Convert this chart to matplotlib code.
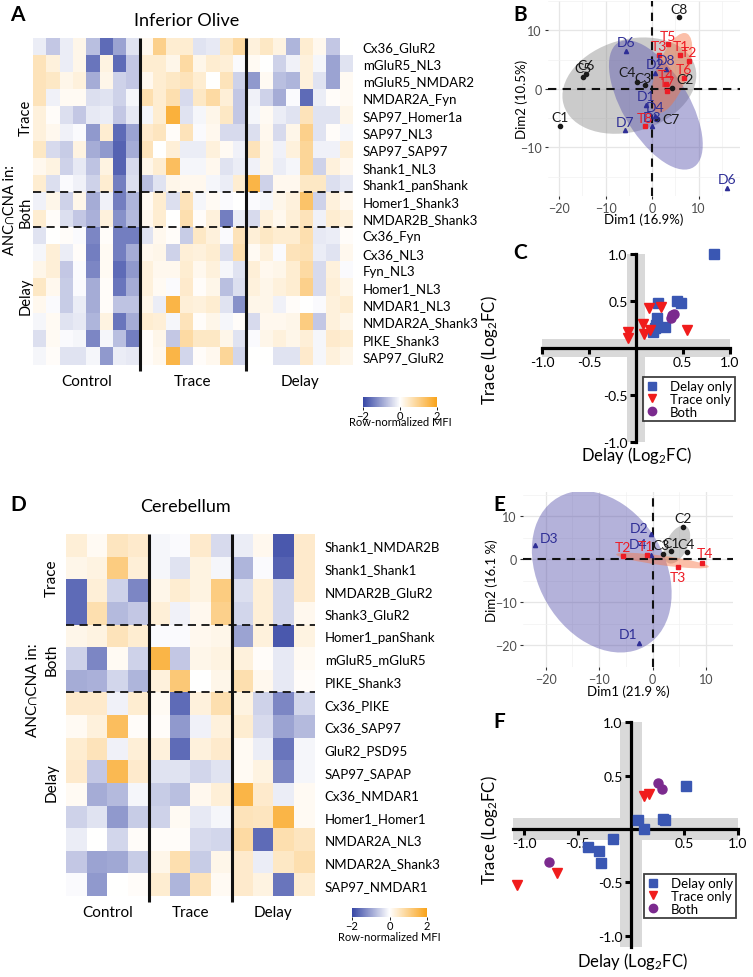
import numpy as np
import matplotlib
matplotlib.use('Agg')
import matplotlib.pyplot as plt
from matplotlib.colors import LinearSegmentedColormap, Normalize
from matplotlib.patches import Ellipse, Rectangle
from matplotlib.lines import Line2D

plt.rcParams['font.family'] = ['Lato', 'DejaVu Sans']
plt.rcParams['axes.unicode_minus'] = False
plt.rcParams['mathtext.fontset'] = 'custom'
plt.rcParams['mathtext.rm'] = 'Lato'
plt.rcParams['mathtext.default'] = 'regular'

# ---------------- data ----------------
io_rows = ['Cx36_GluR2', 'mGluR5_NL3', 'mGluR5_NMDAR2', 'NMDAR2A_Fyn', 'SAP97_Homer1a',
           'SAP97_NL3', 'SAP97_SAP97', 'Shank1_NL3', 'Shank1_panShank', 'Homer1_Shank3',
           'NMDAR2B_Shank3', 'Cx36_Fyn', 'Cx36_NL3', 'Fyn_NL3', 'Homer1_NL3', 'NMDAR1_NL3',
           'NMDAR2A_Shank3', 'PIKE_Shank3', 'SAP97_GluR2']
# 8 control | 8 trace | 8 delay
io_vals = [
    [-0.2, -0.6, -0.2, 0.2, -0.7, -1.6, -1.0, -0.3, 0.15, 1.0, 0.4, 0.4, -0.3, -0.25, 0.5, 0.8, 0.3, 0.5, 0.25, -0.8, 0.4, 0.15, -0.6, 0.0],
    [0.6, 0.3, -0.2, 0.2, -1.5, 0.25, -1.6, -0.6, 0.4, 0.4, 0.2, 0.8, 0.2, 0.4, 0.35, -0.05, 0.1, 0.0, -0.5, -0.15, 0.3, -0.1, -1.0, -0.3],
    [0.6, 0.5, 0.2, 0.3, -0.9, 0.2, -0.5, -0.6, 0.15, 0.4, 0.5, 0.6, 0.4, 0.0, 0.6, -0.5, -1.1, 0.1, -0.7, -0.8, 0.3, -0.3, -1.0, 0.1],
    [0.6, -0.15, 0.1, 0.1, -0.35, -0.3, -0.5, -0.1, 0.7, 0.4, 0.7, -0.4, 0.5, 0.8, 0.35, -0.6, -0.15, -0.5, -0.9, -0.05, -1.6, -0.2, 0.05, 0.1],
    [0.3, 0.05, -0.35, -0.6, -0.25, -0.2, -0.6, -0.25, -0.1, 0.4, 1.7, -0.3, -0.1, 0.2, 0.5, -0.6, -0.1, 0.1, -0.2, -0.3, 0.6, -0.3, -0.3, 0.2],
    [0.3, 0.15, -0.15, -0.05, -1.1, 0.4, -1.6, -1.0, 0.45, 0.55, 0.05, 0.6, -0.05, 0.15, -0.4, -0.4, -0.35, 0.15, -0.4, 0.2, 1.0, -0.3, 0.05, -0.1],
    [0.5, -0.4, -0.55, 0.25, -0.9, -1.1, -1.7, -0.9, 0.6, 0.0, 0.35, -0.2, -0.2, 0.3, 0.1, -0.15, 0.6, 0.2, -0.15, 0.3, 0.9, -0.15, -0.15, 0.35],
    [0.15, 0.25, -0.5, -0.25, -0.65, 0.25, -1.7, -0.4, 0.2, 0.4, 1.4, -0.1, -0.1, 0.15, -0.3, -0.2, -0.15, 0.2, -0.2, -0.1, 0.9, -0.5, 0.3, 0.15],
    [0.4, -0.35, -0.05, -0.15, -0.5, 0.4, -1.4, -0.35, -0.7, -0.3, 0.2, 0.15, 0.15, -0.1, -0.2, 0.4, 1.6, -0.5, 0.15, 0.15, 0.5, 0.5, -0.35, -0.25],
    [-0.15, 0.2, -0.5, 0.2, -0.9, -0.15, -1.4, -0.8, 0.1, 0.4, -0.35, 0.6, -0.1, 0.1, -0.05, 0.0, -0.05, -0.1, 0.2, 0.3, 1.3, -0.5, 0.3, 0.15],
    [0.4, 0.05, -0.35, -0.6, -0.85, 0.3, -1.2, -0.75, 0.15, 0.4, 0.0, 0.7, 0.05, 0.3, -1.4, -0.2, -0.4, 0.3, 0.15, 0.35, 0.6, -0.15, 0.4, 0.3],
    [-0.3, 0.0, 0.05, -0.05, -1.3, 0.05, -1.4, -1.4, -0.3, 0.15, 0.05, -0.55, 0.5, 0.3, -0.05, 0.6, 0.35, 0.5, 0.4, 0.4, 0.7, -0.25, -0.2, 0.05],
    [-0.1, 0.35, -0.2, 0.05, -1.4, 0.1, -1.4, -0.9, 0.15, 0.2, -0.5, 0.35, 0.3, 0.4, -0.35, 0.7, 0.1, 0.3, -0.05, 0.6, 0.65, -0.2, -0.3, 0.15],
    [0.2, 0.35, -0.6, -0.05, -1.3, 0.1, -1.6, -1.1, 0.3, 0.15, 0.15, 0.4, 0.15, 0.3, -0.1, -0.3, 0.35, 0.15, 0.2, 0.4, 0.8, -0.4, 0.3, -0.05],
    [0.5, 0.15, -0.55, -0.05, -0.9, 0.05, -1.5, -0.9, 0.3, 0.1, -0.05, 0.45, 0.05, 0.2, -0.7, -0.35, 0.3, 0.2, 0.3, 0.4, 1.0, -0.4, 0.35, 0.2],
    [0.15, -0.05, -0.55, -0.2, -0.9, 0.05, -0.65, -0.65, 0.2, -0.2, 1.6, 0.35, 0.3, 0.4, -0.3, -1.2, 0.2, 0.2, -0.15, 0.05, 0.0, -0.05, 0.3, 0.4],
    [-0.1, 0.1, -0.3, -0.25, -0.8, 0.25, -1.5, -0.9, 0.4, 0.35, -0.1, 0.6, 0.05, 0.2, -0.1, 0.05, -0.4, 0.15, 0.15, 0.2, 1.1, -0.6, 0.3, 0.2],
    [-0.35, 0.1, -0.05, -0.1, -1.3, -0.1, -0.7, -1.4, 0.05, 0.2, -0.6, 0.8, 0.5, 0.5, 0.2, -0.3, -0.05, 0.2, 0.3, 0.2, 0.35, -0.1, 0.45, 0.4],
    [-0.1, 0.05, -0.3, -0.3, -0.1, -1.1, -0.2, -0.25, 0.05, 0.15, 1.6, -0.45, 0.05, 0.15, 0.9, -0.45, 0.0, 0.0, -0.3, -0.3, 0.45, -0.1, 0.3, 0.2],
]

cb_rows = ['Shank1_NMDAR2B', 'Shank1_Shank1', 'NMDAR2B_GluR2', 'Shank3_GluR2', 'Homer1_panShank',
           'mGluR5_mGluR5', 'PIKE_Shank3', 'Cx36_PIKE', 'Cx36_SAP97', 'GluR2_PSD95', 'SAP97_SAPAP',
           'Cx36_NMDAR1', 'Homer1_Homer1', 'NMDAR2A_NL3', 'NMDAR2A_Shank3', 'SAP97_NMDAR1']
# 4 control | 4 trace | 4 delay
cb_vals = [
    [0.35, 0.1, 0.55, 0.45, -0.1, -0.05, 0.45, -0.4, -0.2, 0.15, -1.8, 0.45],
    [0.2, 0.25, 1.1, 0.35, -0.1, -0.3, 0.25, -0.1, -0.8, -0.05, -1.7, 0.45],
    [-1.6, 0.35, -0.5, -1.3, 0.2, 0.4, 0.25, 1.1, -0.35, 0.35, -0.45, 0.45],
    [-1.6, 0.7, -0.75, -0.6, 0.35, -0.15, 0.15, 1.0, -0.45, 0.35, -0.45, 0.15],
    [0.2, 0.25, 0.6, 0.4, -0.05, -0.05, 0.15, 0.2, -1.0, 0.3, -1.8, 0.25],
    [-0.5, -1.3, 0.1, -0.5, 1.6, -0.6, 0.2, 0.25, 0.3, 0.05, -0.25, 0.1],
    [-0.9, -0.85, -0.45, -0.8, 0.3, 1.2, 0.0, 0.2, 0.7, 0.15, -0.25, 0.05],
    [0.45, 0.45, -0.15, 0.4, 0.1, -1.6, 0.3, 0.7, 0.25, -0.5, -1.3, -0.45],
    [0.1, 0.3, 1.4, 0.05, 0.05, -1.1, -0.15, 0.3, 0.4, -0.4, -1.0, -0.75],
    [0.4, 0.6, -0.15, 0.35, 0.3, -1.6, 0.3, 0.45, 0.1, -0.2, -1.5, -0.1],
    [0.45, -0.6, 1.5, 0.45, -0.3, -0.3, -0.45, -0.3, 0.1, 0.25, -1.3, -0.1],
    [0.1, -0.9, -0.75, -0.1, -0.55, -0.7, 0.15, 0.35, 1.6, 0.45, -0.2, 0.1],
    [-0.5, -0.3, -1.1, -0.55, -0.5, 0.1, -0.25, -0.1, 0.6, 0.55, 1.6, 0.1],
    [-0.2, 0.0, -0.45, 0.05, 0.05, 0.05, -0.4, -0.45, 0.8, -1.6, 0.7, 0.55],
    [-0.6, -1.0, -0.95, -0.55, 0.2, 0.7, -0.55, 0.2, 0.45, -0.2, 0.5, 0.7],
    [-0.05, -1.1, 0.0, 0.05, 0.4, -0.8, 0.6, 0.1, 0.45, 0.25, -1.5, 0.4],
]
conditions = ['Control', 'Trace', 'Delay']

# PCA, inferior olive
b_ctrl_lab = ['C1', 'C2', 'C3', 'C4', 'C5', 'C6', 'C7', 'C8']
b_ctrl_x = [-19.9, 4.3, -1.6, -3.2, -14.8, -14.3, 1.1, 5.7]
b_ctrl_y = [-6.3, 0.2, 0.6, 1.2, 2.0, 2.6, -5.2, 12.2]
b_trace_lab = ['T1', 'T2', 'T3', 'T4', 'T5', 'T6', 'T7', 'T8']
b_trace_x = [6.1, 7.9, 1.4, 2.9, 3.4, 6.8, 3.2, -1.6]
b_trace_y = [5.8, 4.8, 5.8, 0.8, 7.6, 1.9, -0.3, -6.4]
b_delay_lab = ['D6', 'D2', 'D8', 'D1', 'D4', 'D3', 'D7', 'D6']
b_delay_x = [-5.7, 0.6, 2.9, -1.4, 0.7, 0.0, -5.9, 16.1]
b_delay_y = [6.5, 2.7, 3.4, -2.8, -4.6, -6.3, -7.1, -16.9]
# ellipse: centre x, centre y, width, height, angle
b_ellipses = {'Control': (-4.9, 0.55, 29.1, 15.9, 10),
              'Delay': (0.8, -2.75, 26.9, 13.1, 130.8),
              'Trace': (4.2, 2.7, 15.0, 6.4, 63)}

# PCA, cerebellum
e_ctrl_lab = ['C1', 'C2', 'C3', 'C4']
e_ctrl_x = [3.5, 5.6, 1.9, 6.5]
e_ctrl_y = [1.8, 7.5, 1.3, 1.6]
e_trace_lab = ['T1', 'T2', 'T3', 'T4']
e_trace_x = [-1.0, -5.5, 4.7, 9.2]
e_trace_y = [1.1, 0.8, -1.7, -0.9]
e_delay_lab = ['D1', 'D2', 'D3', 'D4']
e_delay_x = [-2.5, -0.3, -21.9, -0.4]
e_delay_y = [-19.4, 5.8, 3.3, 1.1]
e_ellipses = {'Delay': (-9.5, -2.9, 38.6, 24.4, 108),
              'Control': (4.55, 3.4, 9.2, 4.15, 71.4),
              'Trace': (1.85, -0.3, 17.5, 2.2, -9.5)}

# fold changes, inferior olive
c_delay_only_x = [0.83, 0.23, 0.44, 0.48, 0.22, 0.21, 0.31, 0.18, 0.20]
c_delay_only_y = [1.0, 0.48, 0.50, 0.48, 0.32, 0.24, 0.22, 0.17, 0.21]
c_trace_only_x = [-0.085, -0.085, 0.07, 0.09, 0.14, 0.27, 0.15, 0.55]
c_trace_only_y = [0.17, 0.11, 0.26, 0.15, 0.43, 0.44, 0.19, 0.19]
c_both_x = [0.37, 0.39, 0.41]
c_both_y = [0.32, 0.35, 0.36]

# fold changes, cerebellum
f_delay_only_x = [0.51, 0.07, 0.12, 0.30, 0.32, -0.17, -0.40, -0.30, -0.28]
f_delay_only_y = [0.40, 0.08, 0.0, 0.09, 0.08, -0.09, -0.17, -0.21, -0.32]
f_trace_only_x = [0.12, 0.17, -0.69, -1.07]
f_trace_only_y = [0.31, 0.33, -0.41, -0.52]
f_both_x = [0.25, 0.29, -0.77]
f_both_y = [0.43, 0.37, -0.31]

# ---------------- figure ----------------
W, H = 753, 978
fig = plt.figure(figsize=(W / 100, H / 100), dpi=100)


def rect(x0, y0, x1, y1):
    return [x0 / W, 1 - y1 / H, (x1 - x0) / W, (y1 - y0) / H]


def ftext(x, y, s, **kw):
    fig.text(x / W, 1 - y / H, s, **kw)


cmap = LinearSegmentedColormap.from_list('bwo', ['#3747a5', '#ffffff', '#f9a31a'])
norm = Normalize(-2, 2)


def heatmap(box, vals, rows, splits, ext, lab_gap):
    ax = fig.add_axes(rect(*box))
    m = np.array(vals)
    nr, nc = m.shape
    per = nc // 3
    ax.pcolormesh(np.arange(nc + 1), np.arange(nr + 1), m, cmap=cmap, norm=norm)
    ax.set_xlim(0, nc)
    ax.set_ylim(nr, 0)
    for k in (1, 2):
        ax.plot([k * per] * 2, [0, nr + ext], color='#111111', lw=2.2,
                clip_on=False, solid_capstyle='butt')
    for r in splits:
        ax.plot([0, nc], [r, r], color='#111111', lw=1.3, ls=(0, (4.5, 3)), clip_on=False)
    ax.set_yticks(np.arange(nr) + 0.5)
    ax.set_yticklabels(rows, fontsize=9.5)
    ax.yaxis.tick_right()
    ax.tick_params(length=0, pad=7)
    ax.set_xticks([])
    for s in ax.spines.values():
        s.set_visible(False)
    for k, g in enumerate(conditions):
        ax.text((k + 0.5) * per, nr + lab_gap, g, ha='center', va='top', fontsize=11)
    return ax


def colorbar(box, lab_y):
    cax = fig.add_axes(rect(*box))
    cb = fig.colorbar(plt.cm.ScalarMappable(norm=norm, cmap=cmap), cax=cax,
                      orientation='horizontal', ticks=[-2, 0, 2])
    cb.outline.set_visible(False)
    cb.ax.set_xticklabels(['\u22122', '0', '2'], fontsize=8)
    cb.ax.tick_params(length=2, width=0.6, pad=0.5)
    ftext((box[0] + box[2]) / 2, lab_y, 'Row-normalized MFI', ha='center', va='center', fontsize=8)


# ---- A ----
heatmap((33, 38.5, 353, 365.5), io_vals, io_rows, [9, 11], 0.35, 0.55)
ftext(10, 15, 'A', fontsize=15, fontweight='bold', va='center')
ftext(187, 21, 'Inferior Olive', fontsize=13, ha='center', va='center')
ftext(10, 210, 'ANC\u2229CNA in:', rotation=90, fontsize=10.5, ha='center', va='center')
ftext(26, 118, 'Trace', rotation=90, fontsize=10.5, ha='center', va='center')
ftext(26, 212, 'Both', rotation=90, fontsize=10.5, ha='center', va='center')
ftext(26, 296, 'Delay', rotation=90, fontsize=10.5, ha='center', va='center')
colorbar((363, 398, 437, 408), 423)

# ---- D ----
heatmap((66, 535, 315, 897), cb_vals, cb_rows, [4, 7], 0.25, 0.4)
ftext(10, 505, 'D', fontsize=15, fontweight='bold', va='center')
ftext(185, 507, 'Cerebellum', fontsize=13, ha='center', va='center')
ftext(33, 690, 'ANC\u2229CNA in:', rotation=90, fontsize=11, ha='center', va='center')
ftext(52, 578, 'Trace', rotation=90, fontsize=11, ha='center', va='center')
ftext(52, 660, 'Both', rotation=90, fontsize=11, ha='center', va='center')
ftext(52, 783, 'Delay', rotation=90, fontsize=11, ha='center', va='center')
colorbar((352, 909, 427, 918), 938)

# ---- PCA panels ----
grp_col = {'Control': '#1a1a1a', 'Trace': '#ee1c25', 'Delay': '#2e2e96'}
ell_col = {'Control': (0.55, 0.55, 0.55, 0.45), 'Trace': (0.97, 0.45, 0.25, 0.45),
           'Delay': (0.35, 0.33, 0.68, 0.45)}
grp_marker = {'Control': 'o', 'Trace': 's', 'Delay': '^'}


def minus(v):
    return ('\u2212%d' % -v) if v < 0 else '%d' % v


def pca(box, xlim, ylim, xt, yt, pts, ells, xlabel, ylabel, xl_y, yl_x, offsets):
    ax = fig.add_axes(rect(*box))
    ax.set_xlim(xlim)
    ax.set_ylim(ylim)
    ax.set_xticks(xt)
    ax.set_yticks(yt)
    ax.set_xticklabels([minus(v) for v in xt], fontsize=9, color='#4d4d4d')
    ax.set_yticklabels([minus(v) for v in yt], fontsize=9, color='#4d4d4d')
    ax.set_xticks([v + 5 for v in xt], minor=True)
    ax.set_yticks([v + 5 for v in yt] + [yt[0] - 5], minor=True)
    ax.tick_params(which='major', length=2.5, width=0.8, color='#333333', pad=2)
    ax.tick_params(which='minor', length=0)
    ax.grid(which='major', color='#e6e6e6', lw=0.9)
    ax.grid(which='minor', color='#f2f2f2', lw=0.5)
    ax.set_axisbelow(True)
    for s in ax.spines.values():
        s.set_visible(False)
    for g in ['Control', 'Delay', 'Trace']:
        cx, cy, w, h, a = ells[g]
        ax.add_patch(Ellipse((cx, cy), w, h, angle=a, facecolor=ell_col[g], edgecolor='none', zorder=1))
    ax.axhline(0, color='#111111', lw=1.5, ls=(0, (4, 3)), zorder=2)
    ax.axvline(0, color='#111111', lw=1.5, ls=(0, (4, 3)), zorder=2)
    for g, (labs, xs, ys) in pts.items():
        ax.plot(xs, ys, ls='none', marker=grp_marker[g], ms=3, color=grp_col[g], zorder=3, clip_on=False)
        for i, (lab, x, y) in enumerate(zip(labs, xs, ys)):
            dx, dy, ha, va = offsets.get((g, i), (0, 2, 'center', 'bottom'))
            ax.annotate(lab, (x, y), xytext=(dx, dy), textcoords='offset points', ha=ha, va=va,
                        fontsize=10, color=grp_col[g], zorder=4, annotation_clip=False)
    ftext((box[0] + box[2]) / 2, xl_y, xlabel, ha='center', va='center', fontsize=9.5)
    ftext(yl_x, (box[1] + box[3]) / 2, ylabel, ha='center', va='center', fontsize=9.5, rotation=90)
    return ax


b_offsets = {('Control', 1): (3, 2, 'left', 'bottom'), ('Control', 6): (4, 0, 'left', 'center'),
             ('Control', 3): (-1, 3, 'right', 'bottom'), ('Control', 2): (-1, 1, 'center', 'bottom')}
pca((548, 2, 740, 197), (-22.4, 18.9), (-18.3, 14.2), [-20, -10, 0, 10], [-10, 0, 10],
    {'Control': (b_ctrl_lab, b_ctrl_x, b_ctrl_y), 'Delay': (b_delay_lab, b_delay_x, b_delay_y),
     'Trace': (b_trace_lab, b_trace_x, b_trace_y)},
    b_ellipses, 'Dim1 (16.9%)', 'Dim2 (10.5%)', 220, 522, b_offsets)
ftext(513, 15, 'B', fontsize=15, fontweight='bold', va='center')

e_offsets = {('Delay', 2): (3, 1, 'left', 'bottom'), ('Delay', 1): (-2, 0, 'right', 'bottom'),
             ('Delay', 3): (-2, 3, 'right', 'bottom'), ('Delay', 0): (-1, 2, 'right', 'bottom'),
             ('Trace', 2): (0, -3, 'center', 'top'), ('Trace', 0): (-1, 2, 'center', 'bottom'),
             ('Trace', 3): (2, 3, 'center', 'bottom'), ('Control', 2): (-1, 2, 'center', 'bottom'),
             ('Control', 3): (-1, 2, 'center', 'bottom')}
pca((523, 493, 733, 668), (-24.2, 12.6), (-21.8, 15.6), [-20, -10, 0, 10], [-20, -10, 0, 10],
    {'Control': (e_ctrl_lab, e_ctrl_x, e_ctrl_y), 'Delay': (e_delay_lab, e_delay_x, e_delay_y),
     'Trace': (e_trace_lab, e_trace_x, e_trace_y)},
    e_ellipses, 'Dim1 (21.9 %)', 'Dim2 (16.1 %)', 692, 492, e_offsets)
ftext(493, 505, 'E', fontsize=15, fontweight='bold', va='center')

# ---- fold-change scatter panels ----
sc_style = {'Delay only': ('s', '#3a57b3'), 'Trace only': ('v', '#f01c1c'), 'Both': ('o', '#7b2a8e')}


def fc_panel(box, xlim, ylim, hb, vb, series, leg_xy, xl, yl):
    ax = fig.add_axes(rect(*box))
    ax.set_xlim(xlim)
    ax.set_ylim(ylim)
    ax.add_patch(Rectangle((-0.1, vb[0]), 0.2, vb[1] - vb[0], facecolor='#d9d9d9', edgecolor='none', zorder=0))
    ax.add_patch(Rectangle((hb[0], -0.1), hb[1] - hb[0], 0.2, facecolor='#d9d9d9', edgecolor='none', zorder=0))
    for s in ('top', 'right'):
        ax.spines[s].set_visible(False)
    ax.spines['left'].set_position('zero')
    ax.spines['bottom'].set_position('zero')
    ax.spines['left'].set_bounds(*vb)
    ax.spines['bottom'].set_bounds(*hb)
    for s in ('left', 'bottom'):
        ax.spines[s].set_linewidth(2.3)
        ax.spines[s].set_zorder(2)
    ax.set_xticks([-1, -0.5, 0.5, 1])
    ax.set_yticks([-1, -0.5, 0.5, 1])
    ax.set_xticklabels(['-1.0', '-0.5', '0.5', '1.0'], fontsize=10)
    ax.set_yticklabels(['-1.0', '-0.5', '0.5', '1.0'], fontsize=10)
    ax.tick_params(length=4, width=2.2, pad=2)
    handles = []
    for name, (xs, ys) in series.items():
        mk, col = sc_style[name]
        ax.plot(xs, ys, ls='none', marker=mk, ms=6.5, color=col, zorder=3, clip_on=False)
        handles.append(Line2D([], [], ls='none', marker=mk, ms=6, color=col, label=name))
    leg = ax.legend(handles=handles, loc='upper left', bbox_to_anchor=(leg_xy[0] / W, 1 - leg_xy[1] / H),
                    bbox_transform=fig.transFigure, fontsize=9.5, frameon=True, fancybox=False,
                    edgecolor='#111111', borderpad=0.25, handletextpad=1.0, labelspacing=0.05,
                    handlelength=0.8, borderaxespad=0)
    leg.get_frame().set_linewidth(1.3)
    ftext(xl[0], xl[1], 'Delay (Log$_2$FC)', ha='center', va='center', fontsize=12)
    ftext(yl[0], yl[1], 'Trace (Log$_2$FC)', ha='center', va='center', fontsize=12, rotation=90)
    return ax


fc_panel((540.6, 253.1, 731.4, 444.9), (-1.02, 1.02), (-1.02, 1.02), (-1.0, 1.0), (-1.0, 1.0),
         {'Delay only': (c_delay_only_x, c_delay_only_y), 'Trace only': (c_trace_only_x, c_trace_only_y),
          'Both': (c_both_x, c_both_y)},
         (643, 378), (636, 456), (490, 350))
ftext(513, 253, 'C', fontsize=15, fontweight='bold', va='center')

fc_panel((511.2, 720.9, 740.1, 949.8), (-1.12, 1.02), (-1.12, 1.02), (-1.1, 1.0), (-1.1, 1.0),
         {'Delay only': (f_delay_only_x, f_delay_only_y), 'Trace only': (f_trace_only_x, f_trace_only_y),
          'Both': (f_both_x, f_both_y)},
         (644, 875), (632, 962), (490, 830))
ftext(493, 722, 'F', fontsize=15, fontweight='bold', va='center')

fig.savefig('out.png', dpi=100)
